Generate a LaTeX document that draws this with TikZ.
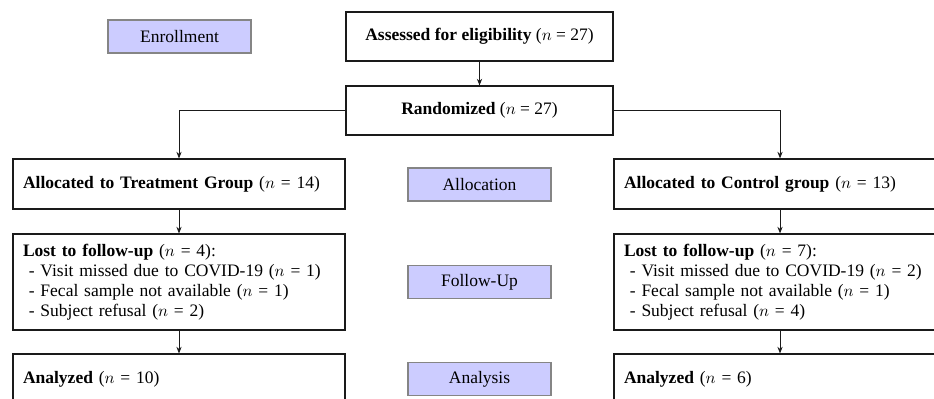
\documentclass[tikz,border=0pt]{standalone}
\usepackage{fontspec}
\setmainfont[Scale=1.05]{Liberation Serif}
\usetikzlibrary{arrows.meta,positioning}
\definecolor{cfInk}{HTML}{1A1A1A}
\definecolor{cfLav}{HTML}{CCCCFF}
\definecolor{cfEdge}{HTML}{858585}
\tikzset{
  box/.style      ={draw=cfInk,line width=0.7pt,inner xsep=6pt,font=\normalsize},
  midbox/.style   ={box,minimum width=160.2pt,minimum height=29.4pt,align=center},
  sidebox/.style  ={box,minimum width=199.2pt,text width=187.2pt,align=left,
                    minimum height=30pt},
  lostbox/.style  ={sidebox,minimum height=57.6pt},
  stage/.style    ={draw=cfEdge,line width=0.7pt,fill=cfLav,minimum width=85.8pt,
                    minimum height=19.8pt,font=\normalsize},
  flow/.style     ={-{Stealth[length=1.4mm,width=1.1mm]},cfInk,line width=0.5pt},
}

\begin{document}
\begin{tikzpicture}[x=0.6pt,y=-0.6pt]
\useasboundingbox (0,0) rectangle (934,398);
\clip (0,0) rectangle (934,398);
%% stage labels
\node[stage] (enrol)  at (179.5,36.5) {Enrollment};
\node[stage] (alloc)  at (479.5,184.5) {Allocation};
\node[stage] (follow) at (479.5,282) {Follow-Up};
\node[stage] (anal)   at (479.5,379) {Analysis};
%% trunk
\node[midbox] (assess) at (479.5,36.5) {\textbf{Assessed for eligibility} ($n$ = 27)};
\node[midbox] (rand)   at (479.5,110.5) {\textbf{Randomized} ($n$ = 27)};
%% treatment arm
\node[sidebox] (treat) at (179,184) {\textbf{Allocated to Treatment Group} ($n$ = 14)};
\node[lostbox] (lostT) at (179,282)
{\textbf{Lost to follow-up} ($n$ = 4):\\
\ - Visit missed due to COVID-19 ($n$ = 1)\\
\ - Fecal sample not available ($n$ = 1)\\
\ - Subject refusal ($n$ = 2)};
\node[sidebox] (anaT) at (179,379) {\textbf{Analyzed} ($n$ = 10)};
%% control arm
\node[sidebox] (ctrl) at (780,184) {\textbf{Allocated to Control group} ($n$ = 13)};
\node[lostbox] (lostC) at (780,282)
{\textbf{Lost to follow-up} ($n$ = 7):\\
\ - Visit missed due to COVID-19 ($n$ = 2)\\
\ - Fecal sample not available ($n$ = 1)\\
\ - Subject refusal ($n$ = 4)};
\node[sidebox] (anaC) at (780,379) {\textbf{Analyzed} ($n$ = 6)};

\draw[flow] (assess) -- (rand);
\draw[flow] (rand.west) -| (treat.north);
\draw[flow] (rand.east) -| (ctrl.north);
\draw[flow] (treat) -- (lostT);
\draw[flow] (lostT) -- (anaT);
\draw[flow] (ctrl) -- (lostC);
\draw[flow] (lostC) -- (anaC);
\end{tikzpicture}
\end{document}
